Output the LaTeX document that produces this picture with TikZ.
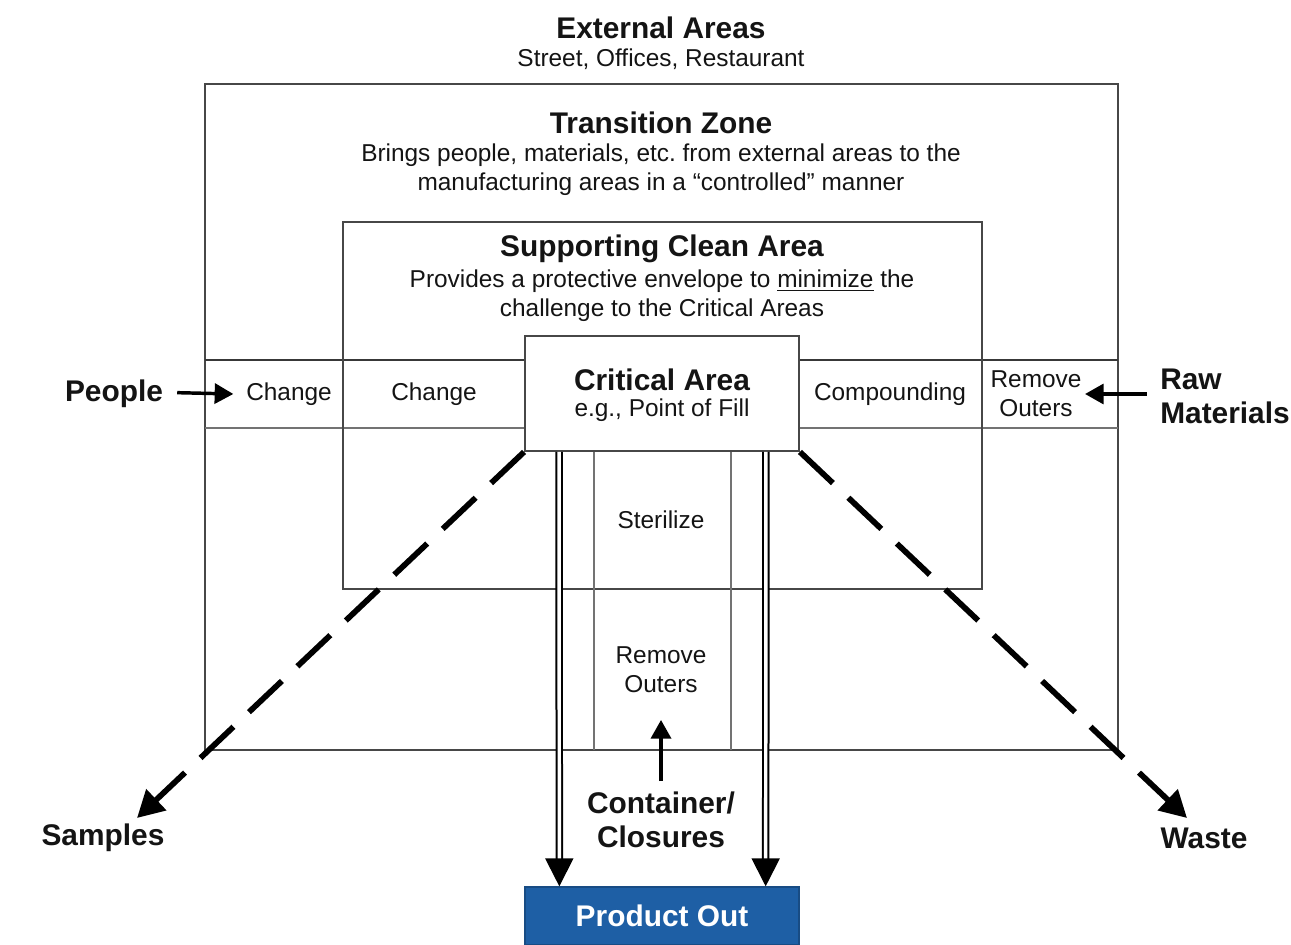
\documentclass[tikz,border=0pt]{standalone}
\usepackage{fontspec}
\setmainfont{Liberation Sans}
\usetikzlibrary{arrows.meta,calc}
\definecolor{prodblue}{RGB}{30,95,165}
\definecolor{ink}{RGB}{20,20,20}
\begin{document}
\begin{tikzpicture}[x=0.75pt,y=-0.75pt,
  boxline/.style={draw=black!72, line width=1.4pt},
  thinline/.style={draw=black!55, line width=0.9pt},
  bandline/.style={draw=black!78, line width=2pt},
  head/.style={font=\fontsize{22.4}{25.5}\selectfont\bfseries, text=ink, align=center, inner sep=0pt},
  body/.style={font=\fontsize{18.3}{21.75}\selectfont, text=ink, align=center, inner sep=0pt},
  critbox/.style={boxline, fill=white, minimum width=205.5pt, minimum height=86.25pt, inner sep=0pt},
  prodbox/.style={draw=prodblue!80!black, line width=1pt, fill=prodblue, minimum width=205.5pt, minimum height=43.5pt, inner sep=0pt,
    text=white, font=\fontsize{22.4}{25.5}\selectfont\bfseries},
  dasharrow/.style={draw=black, line width=4.3pt, dash pattern=on 34pt off 16pt, -{Triangle[length=20pt,width=21pt]}},
  dblarrow/.style={draw=black, double=white, double distance=2.6pt, line width=1.5pt, -{Triangle[length=21pt,width=21pt]}},
  sidearrow/.style={draw=black, line width=2.6pt, -{Triangle[length=14pt,width=15pt]}}
]
\useasboundingbox (0,0) rectangle (1291,945);
\fill[white] (0,0) rectangle (1291,945);

% frames and grid
\draw[boxline] (205,84) rectangle (1118,750);
\draw[bandline] (205,360) -- (1118,360);
\draw[thinline] (205,428) -- (1118,428);
\draw[boxline] (343,222) rectangle (982,589);
\draw[thinline] (594,451) -- (594,750);
\draw[thinline] (731,451) -- (731,750);

% critical area box
\node[critbox] (crit) at (662,393.5) {};
\node[head] (crittitle) at (662,380) {Critical Area};
\node[body] (critsub) at (662,410) {e.g., Point of Fill};

% product out
\node[prodbox] (prod) at (662,916) {Product Out};

% headings
\node[head] (ext) at (661,28) {External Areas};
\node[body] (extsub) at (661,59) {Street, Offices, Restaurant};
\node[head] (trans) at (661,123) {Transition Zone};
\node[body] (transsub) at (661,170) {Brings people, materials, etc.\ from external areas to the\\manufacturing areas in a “controlled” manner};
\node[head] (supp) at (662,249) {Supporting Clean Area};
\node[body] (suppsub) at (662,296) {Provides a protective envelope to \underline{minimize} the\\challenge to the Critical Areas};

% band cells
\node[body] (chg1) at (289,394) {Change};
\node[body] (chg2) at (434,394) {Change};
\node[body] (comp) at (890,394) {Compounding};
\node[body] (rem1) at (1036,394) {Remove\\Outers};
\node[body] (ster) at (661,520) {Sterilize};
\node[body] (rem2) at (661,670) {Remove\\Outers};

% outside labels
\node[head] (people) at (114,394) {People};
\node[head, align=left, anchor=west] (raw) at (1160,396) {Raw\\Materials};
\node[head] (samp) at (103,838) {Samples};
\node[head] (waste) at (1204,838) {Waste};
\node[head] (cont) at (661,820) {Container/\\Closures};
\coordinate (sampTip) at (137,818);
\coordinate (wasteTip) at (1187,818);

% connectors
\draw[sidearrow] ([xshift=10.5pt,yshift=1pt]people.east) -- ([xshift=-9.5pt]chg1.west);
\draw[sidearrow] ([xshift=-10pt]raw.west |- rem1.east) -- ([xshift=2.5pt]rem1.east);
\draw[sidearrow] ([yshift=8pt]cont.north) -- ([yshift=-20pt]rem2.south);
\draw[dasharrow] (crit.south west) -- (sampTip);
\draw[dasharrow] (crit.south east) -- (wasteTip);
\draw[dblarrow] ([xshift=26.25pt]crit.south west) -- ([xshift=26.25pt]prod.north west);
\draw[dblarrow] ([xshift=-25.5pt]crit.south east) -- ([xshift=-25.5pt]prod.north east);
\end{tikzpicture}
\end{document}
